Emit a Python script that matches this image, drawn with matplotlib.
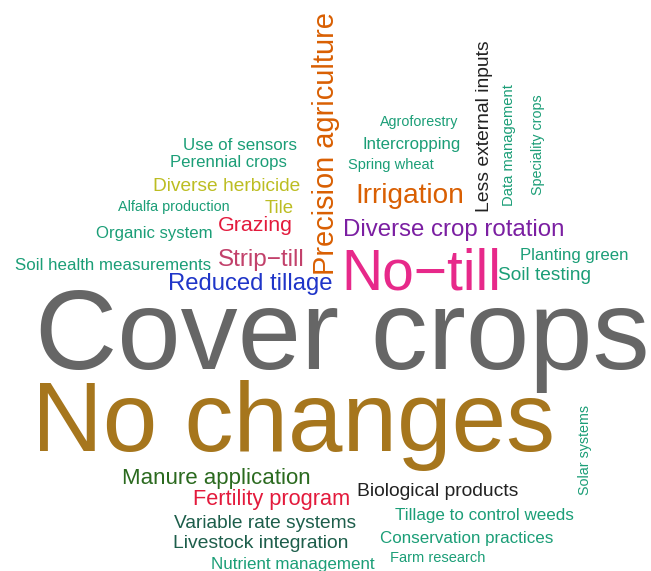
"""
Word cloud: farm practice changes mentioned by respondents.
Words are placed by hand to follow the reference layout.
"""

import matplotlib.pyplot as plt

DPI = 100
W, H = 651, 571

# Data: word, relative weight (text height in px per em)
words = [
    "Cover crops", "No changes", "No\u2212till", "Precision agriculture",
    "Irrigation", "Diverse crop rotation", "Less external inputs",
    "Data management", "Speciality crops", "Agroforestry", "Intercropping",
    "Spring wheat", "Planting green", "Soil testing", "Use of sensors",
    "Perennial crops", "Diverse herbicide", "Alfalfa production", "Tile",
    "Grazing", "Organic system", "Strip\u2212till", "Soil health measurements",
    "Reduced tillage", "Manure application", "Fertility program",
    "Biological products", "Variable rate systems", "Livestock integration",
    "Nutrient management", "Tillage to control weeds",
    "Conservation practices", "Farm research", "Solar systems",
]
weights = [
    114, 98, 57, 29,
    28, 24, 19.3,
    14.7, 14.3, 14.3, 16.8,
    14.6, 16.7, 19.2, 17,
    16.7, 19.2, 14.4, 18.6,
    21.4, 16.7, 24.3, 16.9,
    23.9, 22.3, 21.8,
    19.3, 19.2, 19.3,
    17, 17,
    17, 14.6, 14.3,
]

# Layout: (x, baseline y, vertical?, colour) in pixel coordinates
layout = [
    (35, 369, False, "#666666"),
    (32, 451, False, "#a6761d"),
    (341, 290, False, "#e7298a"),
    (334, 275, True, "#d95f02"),
    (355, 203, False, "#d95f02"),
    (343, 236, False, "#7b1fa2"),
    (489, 212, True, "#222222"),
    (513, 206, True, "#1b9e77"),
    (542, 195, True, "#1b9e77"),
    (380, 126, False, "#1b9e77"),
    (362, 149, False, "#1b9e77"),
    (348, 169, False, "#1b9e77"),
    (520, 260, False, "#1b9e77"),
    (498, 280, False, "#1b9e77"),
    (183, 150, False, "#1b9e77"),
    (170, 167, False, "#1b9e77"),
    (153, 191, False, "#bcbd22"),
    (118, 211, False, "#1b9e77"),
    (265, 213, False, "#bcbd22"),
    (218, 231, False, "#e31a3c"),
    (96, 238, False, "#1b9e77"),
    (218, 266, False, "#c2416b"),
    (15, 270, False, "#1b9e77"),
    (168, 290, False, "#1f35c8"),
    (122, 484, False, "#2b6a1f"),
    (193, 505, False, "#e31a3c"),
    (357, 496, False, "#222222"),
    (174, 528, False, "#1d5e4b"),
    (173, 548, False, "#1d5e4b"),
    (211, 569, False, "#1b9e77"),
    (395, 520, False, "#1b9e77"),
    (380, 543, False, "#1b9e77"),
    (390, 562, False, "#1b9e77"),
    (589, 495, True, "#1b9e77"),
]

fig = plt.figure(figsize=(W / DPI, H / DPI), dpi=DPI)
ax = fig.add_axes([0, 0, 1, 1])
ax.set_xlim(0, W)
ax.set_ylim(H, 0)
ax.axis("off")

for word, wgt, (x, y, vertical, color) in zip(words, weights, layout):
    ax.text(
        x, y, word,
        fontsize=wgt * 72 / DPI,
        family=["Liberation Sans", "DejaVu Sans"],
        color=color,
        rotation=90 if vertical else 0,
        rotation_mode="anchor",
        ha="left",
        va="baseline",
    )

fig.savefig("out.png", dpi=DPI)
